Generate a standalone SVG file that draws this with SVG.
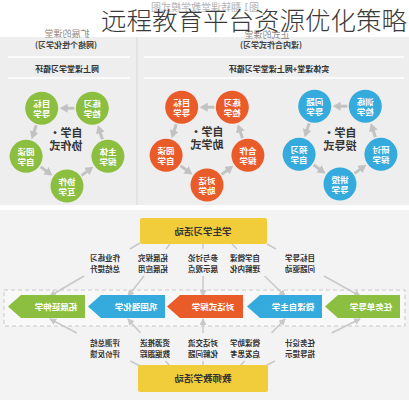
<svg xmlns="http://www.w3.org/2000/svg" width="409" height="400" viewBox="0 0 409 400">
<style>
text{font-family:"Noto Sans CJK SC","Noto Sans",sans-serif;text-anchor:middle}
.ttl{font-size:25.5px;fill:#3a3a3a;text-anchor:start;font-weight:300}
.faint{font-size:10px;fill:#b5b5b5}
.hd1{font-size:9px;fill:#8a8a8a}
.hd2{font-size:8px;fill:#444;font-weight:bold}
.hd3{font-size:8px;fill:#333;font-weight:bold}
.ctr{font-size:11px;fill:#333;font-weight:bold}
.nt{font-size:8.5px;fill:#fff;font-weight:bold}
.lab{font-size:7.5px;fill:#333;font-weight:bold}
.chv{font-size:8.5px;fill:#fff;font-weight:bold}
.box{font-size:9.5px;fill:#333;font-weight:bold}
.cg{fill:#8cbf3f}.co{fill:#ea5b2a}.cb{fill:#35aadc}
.yb{fill:#f1cd3b}
.cyc{stroke:#c2c2c2;stroke-width:3;fill:none;marker-end:url(#ah)}
.con{stroke:#c8c8c8;stroke-width:1.5;fill:none}
.cona{stroke:#c8c8c8;stroke-width:1.5;fill:none;marker-end:url(#ah2)}
.sep{stroke:#fff;stroke-width:1.5}
</style>
<defs>
<marker id="ah" markerUnits="userSpaceOnUse" markerWidth="9" markerHeight="9" refX="5" refY="4.5" orient="auto"><path d="M0,0 L8,4.5 L0,9 z" fill="#c2c2c2"/></marker>
<marker id="ah2" markerUnits="userSpaceOnUse" markerWidth="7" markerHeight="7" refX="6" refY="3.5" orient="auto"><path d="M0,0 L7,3.5 L0,7 z" fill="#c8c8c8"/></marker>
</defs>

<g id="background">
<rect x="0" y="0" width="409" height="400" fill="#ffffff"/>
<rect x="0" y="37" width="409" height="168" fill="#eeeeee"/>
<rect x="0" y="210" width="409" height="190" fill="#f3f3f3"/>
<line class="sep" x1="8" y1="57" x2="130" y2="57"/>
<line class="sep" x1="144" y1="57" x2="404" y2="57"/>
<line class="sep" x1="8" y1="78" x2="130" y2="78"/>
<line class="sep" x1="144" y1="78" x2="404" y2="78"/>
<line x1="137" y1="37" x2="137" y2="205" stroke="#d8d8d8" stroke-width="1"/>
<rect x="4" y="290" width="401" height="36" fill="#f8f8f8" stroke="#c8c8c8" stroke-width="1" stroke-dasharray="4 3"/>
</g>

<g id="headers">
<text class="faint" transform="translate(205,0) scale(-1,1)" x="0" y="11">图1 翻转课堂教学模式图</text>
<text class="hd1" transform="translate(67,0) scale(-1,1)" x="0" y="37">扩展的课堂</text>
<text class="hd2" transform="translate(66,0) scale(-1,1)" x="0" y="47.5">(网络个性化学习)</text>
<text class="hd3" transform="translate(67,0) scale(-1,1)" x="0" y="72">网上课堂学习循环</text>
<text class="hd1" transform="translate(267,0) scale(-1,1)" x="0" y="37.5">正式的课堂</text>
<text class="hd2" transform="translate(271,0) scale(-1,1)" x="0" y="47.5">(课内合作式学习)</text>
<text class="hd3" transform="translate(279,0) scale(-1,1)" x="0" y="72">实体课堂+网上课堂学习循环</text>
</g>

<g id="connectors">
<g transform="translate(67,143)">
<line class="cyc" x1="7.3" y1="-34.8" x2="-4.3" y2="-34.8"/>
<line class="cyc" x1="-30.8" y1="-17.7" x2="-34.4" y2="-6.7"/>
<line class="cyc" x1="-26.3" y1="23.9" x2="-17" y2="30.7"/>
<line class="cyc" x1="14.6" y1="32.4" x2="23.9" y2="25.6"/>
<line class="cyc" x1="35.4" y1="-3.8" x2="31.8" y2="-14.8"/>
</g>
<g transform="translate(207,142)">
<line class="cyc" x1="7.3" y1="-34.8" x2="-4.3" y2="-34.8"/>
<line class="cyc" x1="-30.8" y1="-17.7" x2="-34.4" y2="-6.7"/>
<line class="cyc" x1="-26.3" y1="23.9" x2="-17" y2="30.7"/>
<line class="cyc" x1="14.6" y1="32.4" x2="23.9" y2="25.6"/>
<line class="cyc" x1="35.4" y1="-3.8" x2="31.8" y2="-14.8"/>
</g>
<g transform="translate(340,141)">
<line class="cyc" x1="7.3" y1="-34.8" x2="-4.3" y2="-34.8"/>
<line class="cyc" x1="-30.8" y1="-17.7" x2="-34.4" y2="-6.7"/>
<line class="cyc" x1="-26.3" y1="23.9" x2="-17" y2="30.7"/>
<line class="cyc" x1="14.6" y1="32.4" x2="23.9" y2="25.6"/>
<line class="cyc" x1="35.4" y1="-3.8" x2="31.8" y2="-14.8"/>
</g>
<line class="con" x1="140" y1="243" x2="129.8" y2="249"/>
<line class="cona" x1="84" y1="276" x2="50" y2="296"/>
<line class="con" x1="170" y1="244" x2="166" y2="249"/>
<line class="cona" x1="144" y1="276" x2="128" y2="296"/>
<line class="con" x1="203" y1="244" x2="203" y2="249"/>
<line class="cona" x1="203" y1="276" x2="203" y2="296"/>
<line class="con" x1="232" y1="244" x2="237" y2="249"/>
<line class="cona" x1="264.6" y1="276" x2="285" y2="296"/>
<line class="con" x1="267" y1="244" x2="276" y2="249"/>
<line class="cona" x1="324" y1="276" x2="360" y2="296"/>
<line class="con" x1="140" y1="366" x2="130.4" y2="361"/>
<line class="cona" x1="76.8" y1="333" x2="50" y2="319"/>
<line class="con" x1="170" y1="366" x2="165.5" y2="361"/>
<line class="cona" x1="140.5" y1="333" x2="128" y2="319"/>
<line class="con" x1="203" y1="366" x2="203" y2="361"/>
<line class="cona" x1="203" y1="333" x2="203" y2="319"/>
<line class="con" x1="240" y1="366" x2="244.8" y2="361"/>
<line class="cona" x1="271.6" y1="333" x2="285" y2="319"/>
<line class="con" x1="265" y1="366" x2="275" y2="361"/>
<line class="cona" x1="331.7" y1="333" x2="360" y2="319"/>
</g>

<g id="cycle-green">
<g id="g1" transform="translate(41.7,108.2)"><circle class="cg" r="16.5"/><text class="nt" transform="scale(-1,1)"><tspan x="0" y="-1.5">目标</tspan><tspan x="0" y="8.5">导学</tspan></text></g>
<g id="g2" transform="translate(92.3,108.2)"><circle class="cg" r="16.5"/><text class="nt" transform="scale(-1,1)"><tspan x="0" y="-1.5">练习</tspan><tspan x="0" y="8.5">检学</tspan></text></g>
<g id="g3" transform="translate(107.9,156.3)"><circle class="cg" r="16.5"/><text class="nt" transform="scale(-1,1)"><tspan x="0" y="-1.5">主体</tspan><tspan x="0" y="8.5">探学</tspan></text></g>
<g id="g4" transform="translate(67,186)"><circle class="cg" r="16.5"/><text class="nt" transform="scale(-1,1)"><tspan x="0" y="-1.5">协作</tspan><tspan x="0" y="8.5">互学</tspan></text></g>
<g id="g5" transform="translate(26.1,156.3)"><circle class="cg" r="16.5"/><text class="nt" transform="scale(-1,1)"><tspan x="0" y="-1.5">阅读</tspan><tspan x="0" y="8.5">自学</tspan></text></g>
<text class="ctr" transform="translate(66,0) scale(-1,1)"><tspan x="0" y="137">自学·</tspan><tspan x="0" y="150">协作式</tspan></text>
</g>

<g id="cycle-orange">
<g id="o1" transform="translate(181.7,107.2)"><circle class="co" r="16.5"/><text class="nt" transform="scale(-1,1)"><tspan x="0" y="-1.5">目标</tspan><tspan x="0" y="8.5">导学</tspan></text></g>
<g id="o2" transform="translate(232.3,107.2)"><circle class="co" r="16.5"/><text class="nt" transform="scale(-1,1)"><tspan x="0" y="-1.5">练习</tspan><tspan x="0" y="8.5">检学</tspan></text></g>
<g id="o3" transform="translate(247.9,155.3)"><circle class="co" r="16.5"/><text class="nt" transform="scale(-1,1)"><tspan x="0" y="-1.5">合作</tspan><tspan x="0" y="8.5">探学</tspan></text></g>
<g id="o4" transform="translate(207,185)"><circle class="co" r="16.5"/><text class="nt" transform="scale(-1,1)"><tspan x="0" y="-1.5">对话</tspan><tspan x="0" y="8.5">助学</tspan></text></g>
<g id="o5" transform="translate(166.1,155.3)"><circle class="co" r="16.5"/><text class="nt" transform="scale(-1,1)"><tspan x="0" y="-1.5">阅读</tspan><tspan x="0" y="8.5">自学</tspan></text></g>
<text class="ctr" transform="translate(207,0) scale(-1,1)"><tspan x="0" y="136">自学·</tspan><tspan x="0" y="149">助学式</tspan></text>
</g>

<g id="cycle-blue">
<g id="b1" transform="translate(314.7,106.2)"><circle class="cb" r="16.5"/><text class="nt" transform="scale(-1,1)"><tspan x="0" y="-1.5">问题</tspan><tspan x="0" y="8.5">导学</tspan></text></g>
<g id="b2" transform="translate(365.3,106.2)"><circle class="cb" r="16.5"/><text class="nt" transform="scale(-1,1)"><tspan x="0" y="-1.5">训练</tspan><tspan x="0" y="8.5">检学</tspan></text></g>
<g id="b3" transform="translate(380.9,154.3)"><circle class="cb" r="16.5"/><text class="nt" transform="scale(-1,1)"><tspan x="0" y="-1.5">研讨</tspan><tspan x="0" y="8.5">探学</tspan></text></g>
<g id="b4" transform="translate(340,184)"><circle class="cb" r="16.5"/><text class="nt" transform="scale(-1,1)"><tspan x="0" y="-1.5">讲授</tspan><tspan x="0" y="8.5">导学</tspan></text></g>
<g id="b5" transform="translate(299.1,154.3)"><circle class="cb" r="16.5"/><text class="nt" transform="scale(-1,1)"><tspan x="0" y="-1.5">预习</tspan><tspan x="0" y="8.5">自学</tspan></text></g>
<text class="ctr" transform="translate(340,0) scale(-1,1)"><tspan x="0" y="137">自学·</tspan><tspan x="0" y="150">授导式</tspan></text>
</g>

<g id="student-box"><rect class="yb" x="140" y="218" width="127" height="26" rx="2"/><text class="box" transform="translate(203,0) scale(-1,1)" x="0" y="235">学生学习活动</text></g>
<g id="teacher-box"><rect class="yb" x="138" y="365" width="130" height="27" rx="2"/><text class="box" transform="translate(203,0) scale(-1,1)" x="0" y="382">教师教学活动</text></g>

<g id="student-labels">
<text class="lab" transform="translate(105,0) scale(-1,1)"><tspan x="0" y="261">作业练习</tspan><tspan x="0" y="272">总结提升</tspan></text>
<text class="lab" transform="translate(153,0) scale(-1,1)"><tspan x="0" y="261">拓展探究</tspan><tspan x="0" y="272">拓展应用</tspan></text>
<text class="lab" transform="translate(203,0) scale(-1,1)"><tspan x="0" y="261">参与讨论</tspan><tspan x="0" y="272">展示观点</tspan></text>
<text class="lab" transform="translate(245,0) scale(-1,1)"><tspan x="0" y="261">自学微课</tspan><tspan x="0" y="272">理解内化</tspan></text>
<text class="lab" transform="translate(300,0) scale(-1,1)"><tspan x="0" y="261">目标导学</tspan><tspan x="0" y="272">问题驱动</tspan></text>
</g>

<g id="teacher-labels">
<text class="lab" transform="translate(105,0) scale(-1,1)"><tspan x="0" y="346">评测总结</tspan><tspan x="0" y="357">评价反馈</tspan></text>
<text class="lab" transform="translate(155,0) scale(-1,1)"><tspan x="0" y="346">资源推送</tspan><tspan x="0" y="357">数据跟踪</tspan></text>
<text class="lab" transform="translate(203,0) scale(-1,1)"><tspan x="0" y="346">对话交流</tspan><tspan x="0" y="357">化解问题</tspan></text>
<text class="lab" transform="translate(245,0) scale(-1,1)"><tspan x="0" y="346">微课助学</tspan><tspan x="0" y="357">启发思考</tspan></text>
<text class="lab" transform="translate(300,0) scale(-1,1)"><tspan x="0" y="346">任务设计</tspan><tspan x="0" y="357">指导提示</tspan></text>
</g>

<g id="chevron-1"><polygon class="cg" points="8,306.5 21,295 85,295 85,318 21,318"/><text class="chv" transform="translate(56,0) scale(-1,1)" x="0" y="310">拓展延伸学</text></g>
<g id="chevron-2"><polygon class="cb" points="88,306.5 101,295 165,295 165,318 101,318"/><text class="chv" transform="translate(136,0) scale(-1,1)" x="0" y="310">巩固强化学</text></g>
<g id="chevron-3"><polygon class="co" points="167,306.5 180,295 243,295 243,318 180,318"/><text class="chv" transform="translate(213,0) scale(-1,1)" x="0" y="310">对话式探学</text></g>
<g id="chevron-4"><polygon class="cb" points="247,306.5 260,295 322,295 322,318 260,318"/><text class="chv" transform="translate(293,0) scale(-1,1)" x="0" y="310">微课自主学</text></g>
<g id="chevron-5"><polygon class="cg" points="325,306.5 338,295 400,295 400,318 338,318"/><text class="chv" transform="translate(371,0) scale(-1,1)" x="0" y="310">任务单导学</text></g>

<text class="ttl" x="101" y="29.5">远程教育平台资源优化策略</text>
</svg>
